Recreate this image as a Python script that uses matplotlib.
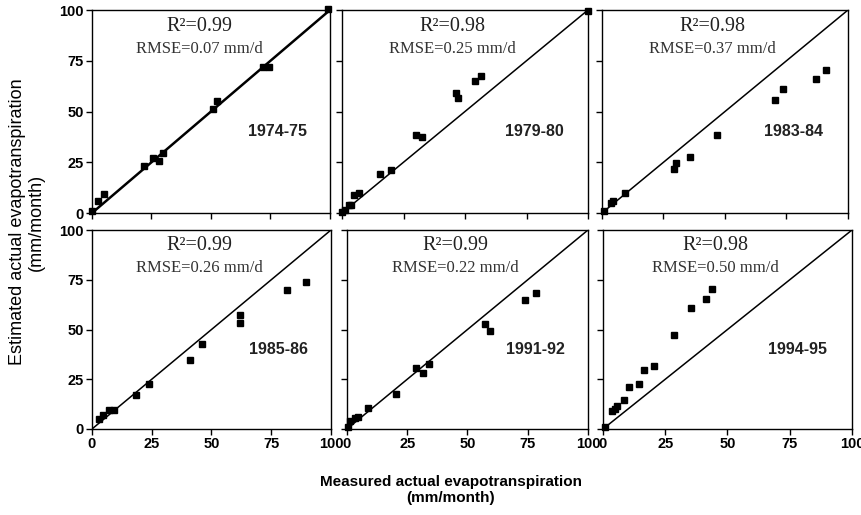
import numpy as np
import matplotlib.pyplot as plt

# (measured, estimated), mm/month
x_7475 = [0, 2.7, 5, 22, 25.5, 28, 30, 51, 52.4, 72, 74.4, 99.3]
y_7475 = [0.8, 5.7, 9.3, 23, 27, 25.4, 29.5, 51.3, 55.2, 72, 72, 100.5]

x_7980 = [0, 1.1, 2.7, 3.8, 5, 7, 15.3, 20, 30, 32.7, 46.2, 47, 54, 56.5, 100]
y_7980 = [0.3, 1.6, 4.1, 4.1, 8.7, 9.9, 19.4, 21.4, 38.5, 37.6, 59.3, 56.7, 65, 67.5, 99.7]

x_8384 = [0.7, 3.6, 4.5, 9.2, 29.3, 30, 35.8, 46.6, 70.5, 73.6, 86.9, 91]
y_8384 = [0.8, 4.9, 6.1, 9.9, 21.9, 24.7, 27.7, 38.6, 55.5, 61.3, 66.2, 70.5]

x_8586 = [3.1, 4.6, 7, 9.1, 18.5, 23.7, 41.1, 46.2, 62, 62, 81.6, 89.5]
y_8586 = [5.1, 6.9, 9.4, 9.4, 17, 22.8, 34.7, 42.8, 57.3, 53.1, 69.8, 73.9]

x_9192 = [0.3, 1.4, 3.3, 4.7, 8.6, 20.4, 28.7, 31.7, 33.9, 57.3, 59.3, 73.7, 78.5]
y_9192 = [1, 3.9, 5.3, 6.1, 10.4, 17.5, 30.6, 28.2, 32.8, 52.7, 49, 64.6, 68.2]

x_9495 = [0.9, 3.6, 4.9, 5.6, 8.5, 10.5, 14.5, 16.5, 20.5, 28.5, 35.5, 41.2, 43.6]
y_9495 = [1, 8.9, 10, 11.4, 14.4, 20.9, 22.6, 29.4, 31.9, 47, 60.7, 65.4, 70.4]

periods = ['1974-75', '1979-80', '1983-84', '1985-86', '1991-92', '1994-95']
r2 = ['0.99', '0.98', '0.98', '0.99', '0.99', '0.98']
rmse = ['0.07', '0.25', '0.37', '0.26', '0.22', '0.50']
xs = [x_7475, x_7980, x_8384, x_8586, x_9192, x_9495]
ys = [y_7475, y_7980, y_8384, y_8586, y_9192, y_9495]
ticks = [0, 25, 50, 75, 100]

W, H = 862, 515
# panel boxes in pixels: left, right, top, bottom
boxes = [(92, 330, 10, 213), (342, 588, 10, 213), (602, 848, 10, 213),
         (92, 331, 230, 429), (347, 588, 230, 429), (603, 852, 230, 429)]

fig = plt.figure(figsize=(W / 100, H / 100), dpi=100)
for i, (l, r, t, b) in enumerate(boxes):
    ax = fig.add_axes([l / W, 1 - b / H, (r - l) / W, (b - t) / H])
    lw = 1.8 if i == 0 else 1.1
    ax.plot([0, 100], [0, 100], color='black', lw=lw, zorder=1)
    ax.plot(xs[i], ys[i], 's', color='black', ms=5, zorder=2, clip_on=False)
    ax.set_xlim(0, 100)
    ax.set_ylim(0, 100)
    ax.set_xticks(ticks)
    ax.set_yticks(ticks)
    ax.tick_params(direction='out', length=4, width=1, pad=2,
                   labelsize=10.5, colors='black')
    for lab in ax.get_xticklabels() + ax.get_yticklabels():
        lab.set_fontweight('bold')
        lab.set_family('Liberation Sans')
    if i < 3:
        ax.set_xticklabels([])
    if i % 3 != 0:
        ax.set_yticklabels([])
    for sp in ax.spines.values():
        sp.set_linewidth(1)
    ax.text(45, 92, 'R\u00b2=' + r2[i], ha='center', va='center',
            family='Liberation Serif', fontsize=14.5, color='#222222')
    ax.text(45, 81, 'RMSE=' + rmse[i] + ' mm/d', ha='center', va='center',
            family='Liberation Serif', fontsize=12, color='#333333')
    ax.text(78, 40, periods[i], ha='center', va='center',
            family='Liberation Sans', fontweight='bold', fontsize=11.5,
            color='#222222')

fig.text(27 / W, 1 - 222 / H, 'Estimated actual evapotranspiration\n(mm/month)',
         rotation=90, ha='center', va='center', family='Liberation Sans',
         fontsize=13, linespacing=1.15)
fig.text(451 / W, 1 - 490 / H, 'Measured actual evapotranspiration\n(mm/month)',
         ha='center', va='center', family='Liberation Sans',
         fontweight='bold', fontsize=11, linespacing=1.2)

fig.savefig('out.png', dpi=100)
